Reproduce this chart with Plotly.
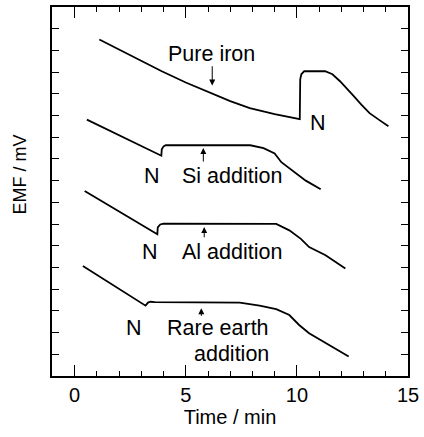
import plotly.graph_objects as go

# Data (time in min, EMF in arbitrary mV offsets)
pure_t = [1.11, 2.0, 3.0, 3.92, 5.0, 6.1, 7.0, 7.88, 9.0, 10.13, 10.15, 10.2, 10.33, 11.27, 11.6, 11.94, 12.25, 12.56, 12.9, 13.27, 13.7, 14.12]
pure_y = [15.5, 15.03, 14.53, 14.04, 13.52, 13.03, 12.66, 12.34, 12.06, 11.83, 13.67, 13.9, 14.04, 14.04, 13.9, 13.58, 13.25, 12.89, 12.5, 12.11, 11.8, 11.51]

si_t = [0.55, 1.5, 2.3, 3.0, 3.9, 3.92, 4.0, 4.1, 5.0, 6.0, 7.0, 7.9, 8.5, 9.0, 9.3, 9.8, 10.4, 11.07]
si_y = [11.81, 11.34, 10.92, 10.58, 10.15, 10.45, 10.58, 10.64, 10.64, 10.64, 10.64, 10.63, 10.5, 10.25, 9.85, 9.45, 9.0, 8.6]

al_t = [0.45, 1.5, 2.5, 3.72, 3.74, 3.85, 4.0, 5.0, 6.0, 7.0, 8.0, 9.07, 9.66, 10.18, 10.55, 11.29, 12.18]
al_y = [8.52, 7.87, 7.27, 6.53, 6.85, 6.98, 7.02, 7.02, 7.02, 7.02, 7.02, 7.01, 6.71, 6.32, 5.94, 5.56, 4.95]

re_t = [0.37, 1.5, 2.5, 3.19, 3.3, 3.41, 3.6, 5.0, 6.0, 7.43, 8.32, 9.07, 9.66, 10.1, 10.55, 11.29, 12.33]
re_y = [5.07, 4.34, 3.69, 3.24, 3.38, 3.42, 3.40, 3.40, 3.40, 3.38, 3.24, 3.08, 2.81, 2.35, 1.97, 1.51, 0.9]

x_ticks = [0, 5, 10, 15]
x_labels = ["0", "5", "10", "15"]

FONT = "Liberation Sans, Arial, sans-serif"
LW = 1.8

fig = go.Figure()
for t, y in [(pure_t, pure_y), (si_t, si_y), (al_t, al_y), (re_t, re_y)]:
    fig.add_trace(go.Scatter(x=t, y=y, mode="lines",
                             line=dict(color="black", width=LW), showlegend=False))

ann_font = dict(family=FONT, size=21.5, color="black")
texts = [
    ("Pure iron", 6.14, 14.85, "center"),
    ("N", 10.95, 11.65, "center"),
    ("N", 3.47, 9.2, "center"),
    ("Si addition", 7.1, 9.2, "center"),
    ("N", 3.38, 5.7, "center"),
    ("Al addition", 7.1, 5.7, "center"),
    ("N", 2.67, 2.2, "center"),
    ("Rare earth", 8.85, 2.2, "right"),
    ("addition", 8.85, 1.0, "right"),
]
for txt, x, y, xa in texts:
    fig.add_annotation(x=x, y=y, text=txt, showarrow=False, xref="x", yref="y",
                       xanchor=xa, yanchor="middle", font=ann_font)

arrows = [
    (6.19, 13.38, 6.19, 14.34),
    (5.79, 10.5, 5.79, 9.81),
    (5.83, 6.87, 5.83, 6.32),
    (5.70, 3.12, 5.70, 2.70),
]
for x, y, ax, ay in arrows:
    fig.add_annotation(x=x, y=y, ax=ax, ay=ay, xref="x", yref="y", axref="x", ayref="y",
                       text="", showarrow=True, arrowhead=2, arrowsize=1.2, arrowwidth=1,
                       arrowcolor="black")

# y-axis title placed as rotated text (sits above the axis centre in the reference)
fig.add_annotation(x=-0.089, y=0.547, xref="paper", yref="paper", text="EMF / mV",
                   textangle=-90, showarrow=False, xanchor="center", yanchor="middle",
                   font=dict(family=FONT, size=18, color="black"))

fig.update_layout(
    width=424, height=437,
    margin=dict(l=52, r=12, t=5, b=61),
    plot_bgcolor="white", paper_bgcolor="white",
    font=dict(family=FONT, color="black"),
    xaxis=dict(range=[-1.02, 15], tickvals=x_ticks, ticktext=x_labels,
               ticks="inside", ticklen=11, tickwidth=1.3, tickcolor="black",
               minor=dict(dtick=1, ticks="inside", ticklen=5, tickwidth=1.1, tickcolor="black"),
               showline=True, linecolor="black", linewidth=1.6, mirror="ticks",
               showgrid=False, zeroline=False,
               tickfont=dict(family=FONT, size=20, color="black"),
               title=dict(text="Time / min", font=dict(family=FONT, size=20, color="black"), standoff=2)),
    yaxis=dict(range=[0, 17], dtick=1, ticks="inside", ticklen=7, tickwidth=1.1,
               tickcolor="black", showticklabels=False,
               showline=True, linecolor="black", linewidth=1.6, mirror="ticks",
               showgrid=False, zeroline=False),
)

fig.write_html("out.html")
